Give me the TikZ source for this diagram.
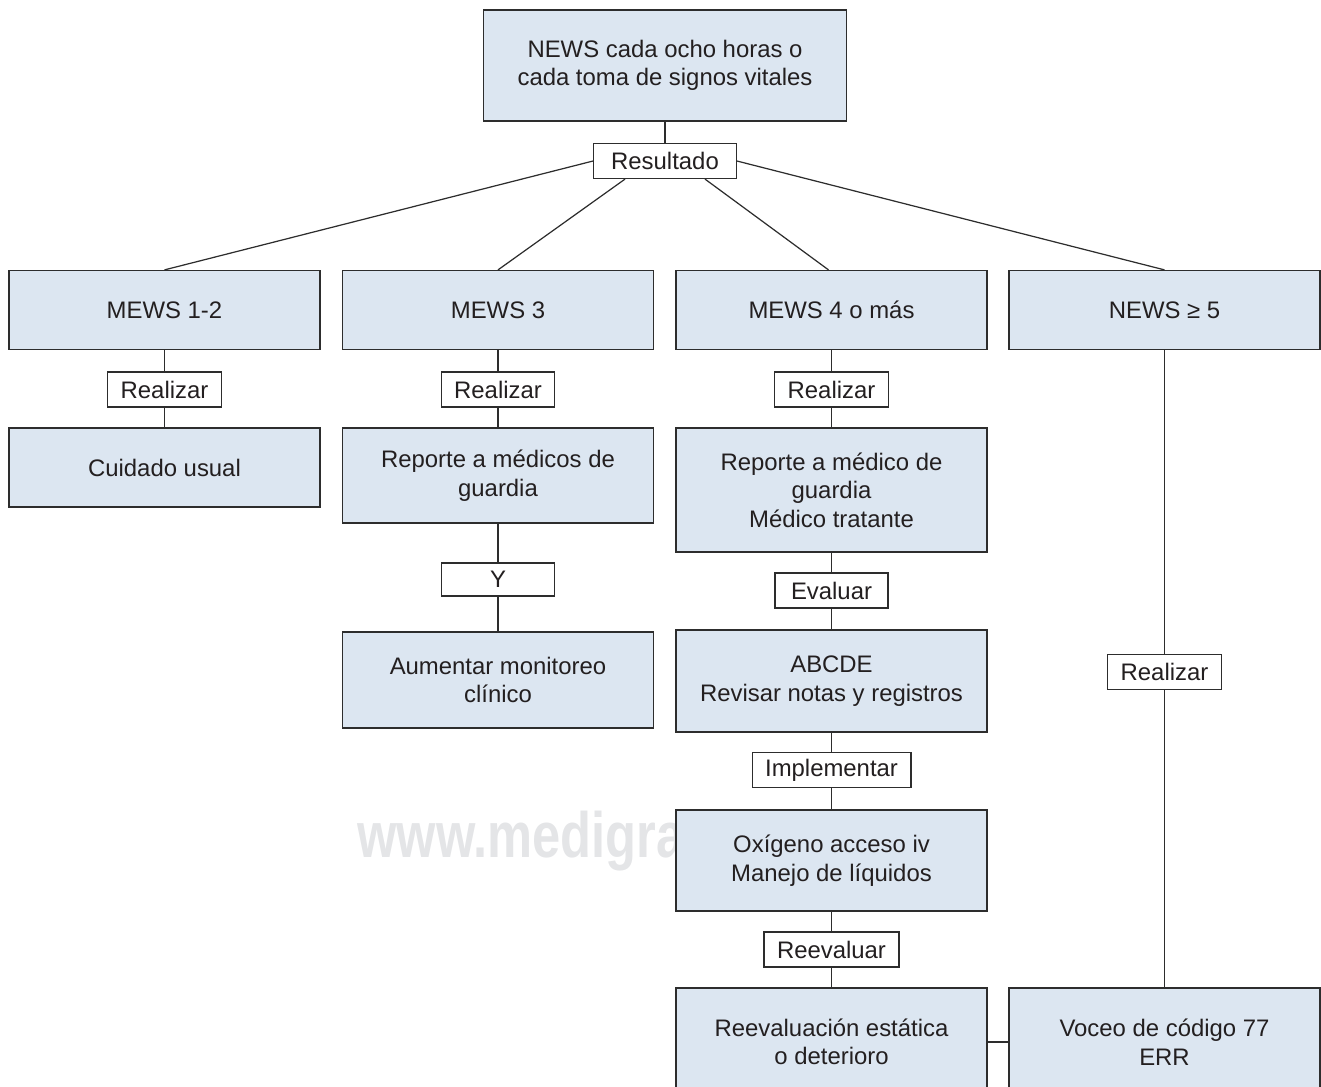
\documentclass[tikz,border=0pt]{standalone}
\usepackage{fontspec}
\setmainfont{Liberation Sans}
\definecolor{boxblue}{RGB}{220,230,241}
\definecolor{edgegray}{RGB}{45,45,45}
\definecolor{ink}{RGB}{35,31,32}
\definecolor{wmgray}{RGB}{228,229,231}

\begin{document}
\begin{tikzpicture}[x=0.02cm, y=-0.02cm,
	box/.style={draw=edgegray, fill=boxblue, line width=0.7pt, minimum width=6.22cm,
		inner sep=0pt, align=center, text=ink, font=\fontsize{13.6}{16.2}\selectfont},
	tag/.style={draw=edgegray, fill=white, line width=0.7pt, minimum width=2.26cm,
		minimum height=0.7cm, inner xsep=0.26cm, inner ysep=0pt, text=ink,
		font=\fontsize{13.6}{16.2}\selectfont},
	link/.style={draw=edgegray, line width=0.7pt}]

	\useasboundingbox (0,0) rectangle (1321,1087);
	\clip (0,0) rectangle (1321,1087);

	% watermark, partly under the boxes
	\node[anchor=base west, text=wmgray, inner sep=0pt, xscale=0.79, transform shape,
		font=\fontsize{36.5}{36.5}\selectfont\bfseries] (wm) at (357,857) {www.medigra};

	% top
	\node[box, minimum width=7.26cm, minimum height=2.22cm] (top) at (665,65.5)
		{NEWS cada ocho horas o\\cada toma de signos vitales};
	\node[tag, inner xsep=0.35cm] (res) at (665,161) {Resultado};

	% first row
	\node[box, minimum height=1.58cm] (m1) at (164.5,310) {MEWS 1-2};
	\node[box, minimum height=1.58cm] (m3) at (498,310) {MEWS 3};
	\node[box, minimum height=1.58cm] (m4) at (831.5,310) {MEWS 4 o más};
	\node[box, minimum height=1.58cm] (n5) at (1164.5,310) {NEWS ≥ 5};

	% MEWS 1-2
	\node[tag] (r1) at (164.5,389.5) {Realizar};
	\node[box, minimum height=1.58cm] (cu) at (164.5,467.5) {Cuidado usual};

	% MEWS 3
	\node[tag] (r3) at (498,389.5) {Realizar};
	\node[box, minimum height=1.9cm] (rep3) at (498,475.5) {Reporte a médicos de\\guardia};
	\node[tag, minimum height=0.66cm] (and3) at (498,579.5) {Y};
	\node[box, minimum height=1.92cm] (aum) at (498,680) {Aumentar monitoreo\\clínico};

	% MEWS 4 o mas
	\node[tag] (r4) at (831.5,389.5) {Realizar};
	\node[box, minimum height=2.48cm] (rep4) at (831.5,490)
		{Reporte a médico de\\guardia\\Médico tratante};
	\node[tag] (ev) at (831.5,590.5) {Evaluar};
	\node[box, minimum height=2.04cm] (abc) at (831.5,681) {ABCDE\\Revisar notas y registros};
	\node[tag] (imp) at (831.5,770) {Implementar};
	\node[box, minimum height=2.02cm] (oxi) at (831.5,860.5) {Oxígeno acceso iv\\Manejo de líquidos};
	\node[tag] (reev) at (831.5,949.5) {Reevaluar};
	\node[box, minimum height=2.16cm] (est) at (831.5,1042) {Reevaluación estática\\o deterioro};

	% NEWS >= 5
	\node[tag] (r5) at (1164.5,672) {Realizar};
	\node[box, minimum height=2.16cm] (voc) at (1164.5,1042) {Voceo de código 77\\ERR};

	% connectors
	\draw[link] (top) -- (res);
	\draw[link] (res.west) -- (m1.north);
	\draw[link] ([xshift=-0.8cm]res.south) -- (m3.north);
	\draw[link] ([xshift=0.8cm]res.south) -- ([xshift=-0.06cm]m4.north);
	\draw[link] (res.east) -- (n5.north);

	\draw[link] (m1) -- (r1) -- (cu);
	\draw[link] (m3) -- (r3) -- (rep3) -- (and3) -- (aum);
	\draw[link] (m4) -- (r4) -- (rep4) -- (ev) -- (abc) -- (imp) -- (oxi) -- (reev) -- (est);
	\draw[link] (n5) -- (r5) -- (voc);
	\draw[link] (est) -- (voc);

\end{tikzpicture}
\end{document}
